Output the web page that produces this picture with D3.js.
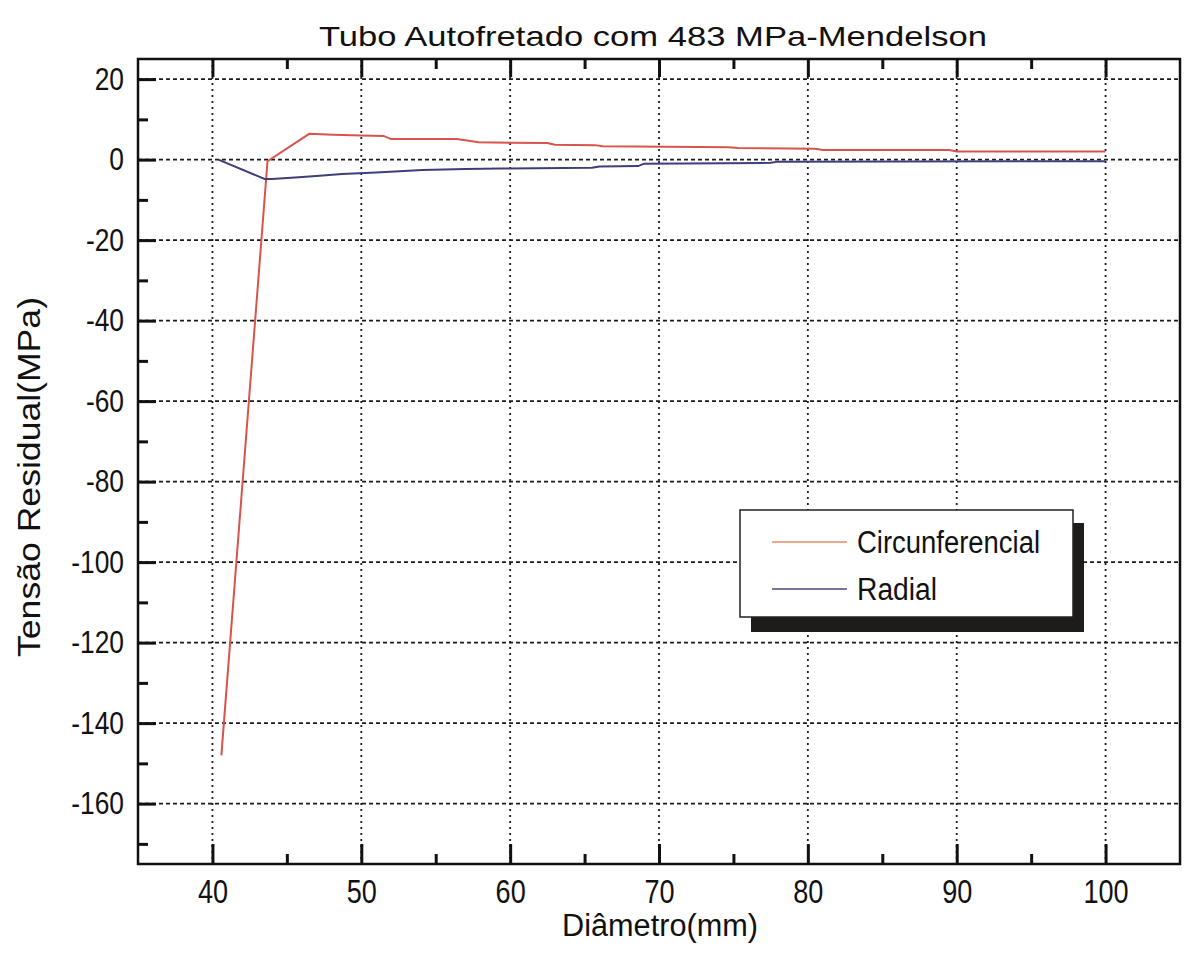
<!DOCTYPE html>
<html>
<head>
<meta charset="utf-8">
<script src="https://cdn.jsdelivr.net/npm/d3@7"></script>
<style>
  body { margin: 0; background: #fff; }
  text { font-family: "Liberation Sans", Arial, sans-serif; fill: #111; }
</style>
</head>
<body>
<svg id="chart"></svg>
<script>
// data
let circX = [40.6, 43.7, 46.5, 48.1, 50, 51.5, 52, 56.4, 57.9, 62.5, 63, 65.7, 66.2, 74.7, 75.3, 80.5, 81, 89.5, 90, 100]
let circY = [-148, -0.4, 6.4, 6.2, 6.0, 5.9, 5.1, 5.1, 4.3, 4.1, 3.7, 3.6, 3.3, 3.1, 2.9, 2.7, 2.4, 2.4, 2.0, 2.0]

let radX = [40.4, 43.5, 44, 45.8, 47.2, 48.7, 51, 54.1, 57, 59.3, 65.5, 66, 68.6, 69, 77.5, 78, 100]
let radY = [0, -4.8, -4.8, -4.4, -4.0, -3.6, -3.2, -2.6, -2.3, -2.2, -2.0, -1.7, -1.6, -1.0, -0.8, -0.5, -0.4]

let xMajor = [40, 50, 60, 70, 80, 90, 100]
let xMinor = [45, 55, 65, 75, 85, 95]
let yMajor = [20, 0, -20, -40, -60, -80, -100, -120, -140, -160]
let yMinor = [10, -10, -30, -50, -70, -90, -110, -130, -150, -170]

let seriesNames = ['Circunferencial', 'Radial']
let seriesColors = ['#d9534c', '#3e3e7a']

let w = 1184
let h = 974
let pLeft = 138, pRight = 1180, pTop = 59, pBottom = 864

let svg = d3.select('#chart').attr('width', w).attr('height', h)

let xScale = d3.scaleLinear().domain([35, 105]).range([pLeft, pRight])
let yScale = d3.scaleLinear().domain([-175, 25]).range([pBottom, pTop])

// squeeze text a bit, the original font is narrow
let narrow = (sel, k) => {
  sel.each(function () {
    let len = this.getComputedTextLength()
    d3.select(this).attr('textLength', len * k).attr('lengthAdjust', 'spacingAndGlyphs')
  })
}

// grid
let grid = svg.append('g').attr('stroke', '#1a1a1a').attr('stroke-width', 1.8)
grid.selectAll('.vg').data(xMajor).enter().append('line')
    .attr('x1', d => xScale(d)).attr('x2', d => xScale(d))
    .attr('y1', pTop).attr('y2', pBottom)
    .attr('stroke-dasharray', '2,4')
grid.selectAll('.hg').data(yMajor).enter().append('line')
    .attr('x1', pLeft).attr('x2', pRight)
    .attr('y1', d => yScale(d)).attr('y2', d => yScale(d))
    .attr('stroke-dasharray', '4,3')

// lines
let line = d3.line().x(d => xScale(d[0])).y(d => yScale(d[1]))
let series = [d3.zip(circX, circY), d3.zip(radX, radY)]
svg.selectAll('.series').data(series).enter().append('path')
   .attr('d', line)
   .attr('fill', 'none')
   .attr('stroke', (d, i) => seriesColors[i])
   .attr('stroke-width', 2)

// frame
svg.append('rect').attr('x', pLeft).attr('y', pTop)
   .attr('width', pRight - pLeft).attr('height', pBottom - pTop)
   .attr('fill', 'none').attr('stroke', '#111').attr('stroke-width', 2.5)

// axes
let styleAxis = g => {
  g.select('.domain').remove()
  g.selectAll('line').attr('stroke', '#111').attr('stroke-width', 3)
}
let plain = d => String(d)  // hyphen minus like the original

let xAxis = svg.append('g').attr('transform', 'translate(0,' + pBottom + ')')
  .call(d3.axisBottom(xScale).tickValues(xMajor).tickSize(-20).tickPadding(16).tickFormat(plain))
xAxis.call(styleAxis)
xAxis.selectAll('text').attr('font-size', 33).attr('font-family', 'Liberation Sans, Arial, sans-serif').attr('fill', '#111')
svg.append('g').attr('transform', 'translate(0,' + pBottom + ')')
  .call(d3.axisBottom(xScale).tickValues(xMinor).tickSize(-10).tickFormat(''))
  .call(styleAxis)
svg.append('g').attr('transform', 'translate(0,' + pTop + ')')
  .call(d3.axisTop(xScale).tickValues(xMajor).tickSize(-18).tickFormat(''))
  .call(styleAxis)
svg.append('g').attr('transform', 'translate(0,' + pTop + ')')
  .call(d3.axisTop(xScale).tickValues(xMinor).tickSize(-10).tickFormat(''))
  .call(styleAxis)

let yAxis = svg.append('g').attr('transform', 'translate(' + pLeft + ',0)')
  .call(d3.axisLeft(yScale).tickValues(yMajor).tickSize(-18).tickPadding(14).tickFormat(plain))
yAxis.call(styleAxis)
yAxis.selectAll('text').attr('font-size', 31).attr('font-family', 'Liberation Sans, Arial, sans-serif').attr('fill', '#111')
svg.append('g').attr('transform', 'translate(' + pLeft + ',0)')
  .call(d3.axisLeft(yScale).tickValues(yMinor).tickSize(-10).tickFormat(''))
  .call(styleAxis)

narrow(xAxis.selectAll('text'), 0.82)
narrow(yAxis.selectAll('text'), 0.85)

// titles
svg.append('text').attr('x', 653).attr('y', 46).attr('text-anchor', 'middle')
   .attr('font-size', 28).attr('textLength', 668).attr('lengthAdjust', 'spacingAndGlyphs')
   .text('Tubo Autofretado com 483 MPa-Mendelson')
svg.append('text').attr('x', 660).attr('y', 936).attr('text-anchor', 'middle')
   .attr('font-size', 31).attr('textLength', 196).attr('lengthAdjust', 'spacingAndGlyphs')
   .text('Diâmetro(mm)')
svg.append('text').attr('transform', 'translate(40,477) rotate(-90)').attr('text-anchor', 'middle')
   .attr('font-size', 31).attr('textLength', 360).attr('lengthAdjust', 'spacingAndGlyphs')
   .text('Tensão Residual(MPa)')

// legend with shadow
let lg = svg.append('g')
lg.append('rect').attr('x', 751).attr('y', 523).attr('width', 333).attr('height', 109).attr('fill', '#1e1c1a')
lg.append('rect').attr('x', 740).attr('y', 510).attr('width', 333).attr('height', 107)
  .attr('fill', '#fff').attr('stroke', '#222').attr('stroke-width', 1.5)
let legendColors = ['#e88a6a', '#4a4a7a']
let legendW = [183, 80]
seriesNames.forEach((name, i) => {
  let yy = 542 + i * 47
  lg.append('line').attr('x1', 772).attr('x2', 847).attr('y1', yy).attr('y2', yy)
    .attr('stroke', legendColors[i]).attr('stroke-width', 1.5)
  lg.append('text').attr('x', 857).attr('y', yy + 11).attr('font-size', 31)
    .attr('textLength', legendW[i]).attr('lengthAdjust', 'spacingAndGlyphs')
    .text(name)
})
</script>
</body>
</html>
